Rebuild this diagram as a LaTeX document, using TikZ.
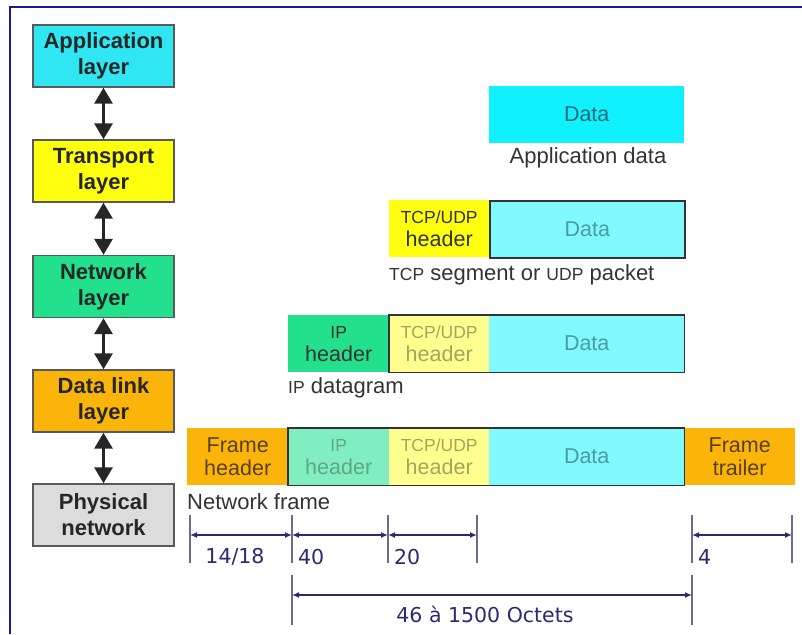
\documentclass[tikz,border=0pt]{standalone}
\usepackage{fontspec}
\setmainfont{Liberation Sans}
\newfontfamily\dimfont{DejaVu Sans}
\usetikzlibrary{arrows.meta}

\definecolor{frameblue}{HTML}{1A1A9A}
\definecolor{appcyan}{HTML}{30E6F2}
\definecolor{datacyan}{HTML}{10F0FF}
\definecolor{trnyellow}{HTML}{FFFF10}
\definecolor{netgreen}{HTML}{22E08C}
\definecolor{linkorange}{HTML}{FBB50A}
\definecolor{physgray}{HTML}{DCDCDC}
\definecolor{palecyan}{HTML}{80FAFF}
\definecolor{paleyellow}{HTML}{FFFF90}
\definecolor{palegreen}{HTML}{80EEC0}
\definecolor{darkteal}{HTML}{1E6E74}
\definecolor{softteal}{HTML}{4A9CA4}
\definecolor{softolive}{HTML}{A4A45C}
\definecolor{softgreen}{HTML}{5EA884}
\definecolor{darkbrown}{HTML}{5A4010}
\definecolor{navy}{HTML}{2A2A70}
\definecolor{tickgray}{HTML}{6A6A92}

\newcommand{\smtag}[1]{{\fontsize{17.5}{20}\selectfont #1}}

\tikzset{
  layerbox/.style={draw=black!65, line width=1.4pt, minimum width=141pt, minimum height=62pt,
    inner sep=0pt, align=center, text=black!85, font=\fontsize{22}{26}\selectfont\bfseries},
  cell/.style={anchor=north west, minimum height=57pt, inner sep=0pt, align=center,
    font=\fontsize{21.5}{23}\selectfont},
  updown/.style={{Triangle[width=18pt,length=16pt]}-{Triangle[width=18pt,length=16pt]},
    line width=3pt, black!85},
  tickline/.style={line width=1.6pt, tickgray},
  dimarrow/.style={{Latex[length=7pt,width=6pt]}-{Latex[length=7pt,width=6pt]}, line width=1.6pt, navy},
  dimlabel/.style={font=\dimfont\fontsize{20.5}{22}\selectfont, text=navy, inner sep=0pt},
  caption/.style={font=\fontsize{22}{24}\selectfont, text=black!80, inner sep=0pt}
}

\begin{document}
\begin{tikzpicture}[x=1pt, y=-1pt]
  \useasboundingbox (0,0) rectangle (802,634);

  % --- FRAME ---
  \draw[line width=2pt, frameblue] (10,634) -- (10,7) -- (802,7);

  % --- LAYER STACK ---
  \node[layerbox, fill=appcyan] (app) at (103.5,56) {Application\\layer};
  \node[layerbox, fill=trnyellow] (transp) at (103.5,171) {Transport\\layer};
  \node[layerbox, fill=netgreen] (netw) at (103.5,286.5) {Network\\layer};
  \node[layerbox, fill=linkorange] (dlink) at (103.5,401) {Data link\\layer};
  \node[layerbox, fill=physgray] (phys) at (103.5,515) {Physical\\network};

  \draw[updown] (app) -- (transp);
  \draw[updown] (transp) -- (netw);
  \draw[updown] (netw) -- (dlink);
  \draw[updown] (dlink) -- (phys);

  % --- APPLICATION DATA ---
  \node[cell, fill=datacyan, minimum width=195pt, text=darkteal] (dat1) at (489,86) {Data};
  \node[caption, anchor=center] (applbl) at (588,158) {Application data};

  % --- TCP SEGMENT ---
  \node[cell, fill=trnyellow, minimum width=100pt, text=black!80] (tcp2) at (389,200) {\smtag{TCP/UDP}\\header};
  \node[cell, fill=palecyan, minimum width=195pt, text=softteal, draw=black!80, line width=1.5pt] (dat2) at (489,200) {Data};
  \node[caption, anchor=west] (seglbl) at (389,275) {\smtag{TCP} segment or \smtag{UDP} packet};

  % --- IP DATAGRAM ---
  \node[cell, fill=netgreen, minimum width=101pt, text=black!80] (ip3) at (288,315) {\smtag{IP}\\header};
  \node[cell, fill=paleyellow, minimum width=100pt, text=softolive] (tcp3) at (389,315) {\smtag{TCP/UDP}\\header};
  \node[cell, fill=palecyan, minimum width=195pt, text=softteal] (dat3) at (489,315) {Data};
  \draw[line width=1.5pt, black!80] (tcp3.north west) rectangle (dat3.south east);
  \node[caption, anchor=west] (iplbl) at (288,388) {\smtag{IP} datagram};

  % --- NETWORK FRAME ---
  \node[cell, fill=linkorange, minimum width=101pt, text=darkbrown] (fhead) at (187,428) {Frame\\header};
  \node[cell, fill=palegreen, minimum width=101pt, text=softgreen] (ip4) at (288,428) {\smtag{IP}\\header};
  \node[cell, fill=paleyellow, minimum width=100pt, text=softolive] (tcp4) at (389,428) {\smtag{TCP/UDP}\\header};
  \node[cell, fill=palecyan, minimum width=195pt, text=softteal] (dat4) at (489,428) {Data};
  \node[cell, fill=linkorange, minimum width=111pt, text=darkbrown] (ftrail) at (684,428) {Frame\\trailer};
  \draw[line width=1.5pt, black!80] (ip4.north west) rectangle (dat4.south east);
  \node[caption, anchor=west] (framelbl) at (187,502) {Network frame};

  % --- SIZES ---
  \foreach \x [count=\i] in {190,292,388,477,692,792} {
    \draw[tickline] (\x,515) -- (\x,563);
    \coordinate (d\i) at (\x,535);
  }
  \draw[dimarrow] (d1) -- (d2);
  \draw[dimarrow] (d2) -- (d3);
  \draw[dimarrow] (d3) -- (d4);
  \draw[dimarrow] (d5) -- (d6);
  \node[dimlabel] (sz1) at (235,557) {14/18};
  \node[dimlabel, anchor=west] (sz2) at (298,557) {40};
  \node[dimlabel, anchor=west] (sz3) at (394,557) {20};
  \node[dimlabel, anchor=west] (sz4) at (698,557) {4};

  \foreach \x [count=\i] in {292,692} {
    \draw[tickline] (\x,575) -- (\x,625);
    \coordinate (e\i) at (\x,595);
  }
  \draw[dimarrow] (e1) -- (e2);
  \node[dimlabel] (szall) at (485,614) {46 à 1500 Octets};
\end{tikzpicture}
\end{document}
